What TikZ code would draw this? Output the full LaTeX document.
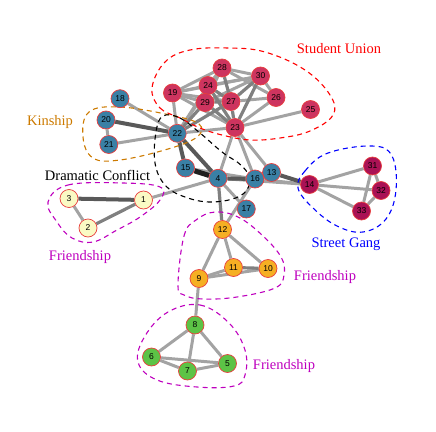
\documentclass[tikz,border=0pt]{standalone}
\usepackage{fontspec}
\setmainfont{Liberation Serif}
\setsansfont{Liberation Sans}
\usetikzlibrary{backgrounds}

\definecolor{suRed}{RGB}{205,52,95}
\definecolor{kinBlue}{RGB}{58,128,165}
\definecolor{gangRed}{RGB}{170,18,85}
\definecolor{frYel}{RGB}{250,250,196}
\definecolor{frOrg}{RGB}{245,175,35}
\definecolor{frGrn}{RGB}{92,195,70}
\definecolor{vBorder}{RGB}{232,62,62}
\definecolor{hullOrg}{RGB}{204,122,0}
\definecolor{hullMag}{RGB}{190,0,190}

\tikzset{
  v/.style={circle, draw=vBorder, line width=0.7pt, minimum size=18pt, inner sep=0pt,
            font=\sffamily\fontsize{8.5}{8.5}\selectfont},
  lnk/.style={draw=black!36, line width=3pt},
  lnkmid/.style={draw=black!50, line width=3.2pt},
  lnkdark/.style={draw=black!65, line width=4pt},
  lnkblack/.style={draw=black!88, line width=5pt},
  hull/.style={dashed, dash pattern=on 5pt off 4pt, line width=1.1pt},
  grp/.style={font=\fontsize{14.5}{16}\selectfont, inner sep=0pt},
}

\begin{document}
\begin{tikzpicture}[x=1pt, y=-1pt, line cap=round, line join=round]

  %% ════ nodes ════
  % Student Union
  \node[v, fill=suRed] (n19) at (172.5,93.0) {19};
  \node[v, fill=suRed] (n23) at (235.0,127.5) {23};
  \node[v, fill=suRed] (n24) at (208.0,85.5) {24};
  \node[v, fill=suRed] (n25) at (310.5,109.5) {25};
  \node[v, fill=suRed] (n26) at (276.0,97.5) {26};
  \node[v, fill=suRed] (n27) at (231.0,101.5) {27};
  \node[v, fill=suRed] (n28) at (222.0,68.0) {28};
  \node[v, fill=suRed] (n29) at (205.0,102.5) {29};
  \node[v, fill=suRed] (n30) at (260.5,76.0) {30};
  % blue ones
  \node[v, fill=kinBlue] (n4) at (218.0,178.3) {4};
  \node[v, fill=kinBlue] (n13) at (271.5,172.5) {13};
  \node[v, fill=kinBlue] (n15) at (185.5,168.0) {15};
  \node[v, fill=kinBlue] (n16) at (255.0,179.0) {16};
  \node[v, fill=kinBlue] (n17) at (246.3,209.0) {17};
  \node[v, fill=kinBlue] (n18) at (120.0,98.7) {18};
  \node[v, fill=kinBlue] (n20) at (106.0,120.0) {20};
  \node[v, fill=kinBlue] (n21) at (108.8,144.5) {21};
  \node[v, fill=kinBlue] (n22) at (177.3,133.3) {22};
  % Street Gang
  \node[v, fill=gangRed] (n14) at (309.5,184.5) {14};
  \node[v, fill=gangRed] (n31) at (372.5,166.0) {31};
  \node[v, fill=gangRed] (n32) at (381.0,190.5) {32};
  \node[v, fill=gangRed] (n33) at (361.5,211.0) {33};
  % Friendship groups
  \node[v, fill=frYel] (n1) at (143.5,200.0) {1};
  \node[v, fill=frYel] (n2) at (88.0,228.0) {2};
  \node[v, fill=frYel] (n3) at (69.0,198.5) {3};
  \node[v, fill=frOrg] (n9) at (199.0,278.5) {9};
  \node[v, fill=frOrg] (n10) at (268.0,268.5) {10};
  \node[v, fill=frOrg] (n11) at (233.5,267.5) {11};
  \node[v, fill=frOrg] (n12) at (222.5,229.5) {12};
  \node[v, fill=frGrn] (n5) at (227.5,363.5) {5};
  \node[v, fill=frGrn] (n6) at (151.5,357.0) {6};
  \node[v, fill=frGrn] (n7) at (187.5,371.0) {7};
  \node[v, fill=frGrn] (n8) at (195.0,325.0) {8};

  %% ════ edges + hulls, under the nodes ════
  \begin{pgfonlayer}{background}
    \foreach \a/\b in {19/28, 19/24, 19/29, 19/30, 19/27, 19/23, 28/24, 28/30, 28/26,
                       28/29, 24/30, 24/29, 30/26, 30/29, 27/26, 26/23, 25/23,
                       22/19, 22/28, 22/23, 22/24, 18/22, 21/22, 20/21,
                       23/4, 23/16, 23/13, 15/16, 16/13, 16/14, 4/14, 1/4,
                       4/17, 16/12, 14/31, 14/32, 14/33, 31/32, 31/33, 32/33,
                       3/2, 12/9, 12/11, 12/10, 9/11, 9/10, 9/8,
                       8/6, 8/7, 8/5, 6/7, 6/5, 7/5}
      \draw[lnk] (n\a) -- (n\b);
    \foreach \a/\b in {28/27, 24/27, 24/23, 30/27, 30/23, 27/29, 27/23, 29/23,
                       22/29, 22/27, 4/12, 11/10, 2/1}
      \draw[lnkmid] (n\a) -- (n\b);
    \foreach \a/\b in {22/15, 22/4, 4/16, 13/14, 20/22, 3/1}
      \draw[lnkdark] (n\a) -- (n\b);
    \draw[lnkblack] (n15) -- (n4);

    % group outlines
    \draw[hull, red] plot[smooth cycle, tension=0.65] coordinates {
      (152,88) (160,108) (180,118) (200,128) (222,135) (250,140) (280,138)
      (310,131) (333,115) (330,95) (305,70) (265,52) (228,48) (190,50) (165,62)};
    \draw[hull, hullOrg] plot[smooth cycle, tension=0.65] coordinates {
      (89,112) (120,107) (170,115) (199,124) (197,137) (168,149) (120,160)
      (93,158) (83,137)};
    \draw[hull, black] plot[smooth cycle, tension=0.65] coordinates {
      (163,116) (180,118) (200,133) (222,152) (242,166) (250,181) (240,196)
      (212,202) (185,197) (165,185) (155,163) (156,132)};
    \draw[hull, blue] plot[smooth cycle, tension=0.65] coordinates {
      (298,188) (305,171) (328,153) (372,146) (392,156) (396,190) (386,219)
      (363,232) (337,226) (313,208)};
    \draw[hull, hullMag] plot[smooth cycle, tension=0.65] coordinates {
      (48,202) (68,185) (123,183) (160,187) (160,200) (140,217) (117,230)
      (93,242) (72,238) (57,222)};
    \draw[hull, hullMag] plot[smooth cycle, tension=0.65] coordinates {
      (178,285) (184,236) (196,220) (215,212) (238,217) (262,235) (281,257)
      (284,275) (275,288) (237,297) (203,299) (184,295)};
    \draw[hull, hullMag] plot[smooth cycle, tension=0.65] coordinates {
      (168,312) (200,305) (229,323) (245,350) (245,375) (234,386) (197,387)
      (157,380) (138,362) (145,336)};
  \end{pgfonlayer}

  %% ════ group labels ════
  \node[grp, text=red] (lblSU) at (339,49) {Student Union};
  \node[grp, text=hullOrg] (lblKin) at (50,122) {Kinship};
  \node[grp, text=black] (lblDC) at (97.5,175) {Dramatic Conflict};
  \node[grp, text=hullMag] (lblF1) at (80,257) {Friendship};
  \node[grp, text=blue] (lblSG) at (346,244) {Street Gang};
  \node[grp, text=hullMag] (lblF2) at (325,277) {Friendship};
  \node[grp, text=hullMag] (lblF3) at (284,366) {Friendship};

  % fix the canvas
  \pgfresetboundingbox
  \path[use as bounding box] (0,0) rectangle (436,431);
\end{tikzpicture}
\end{document}
